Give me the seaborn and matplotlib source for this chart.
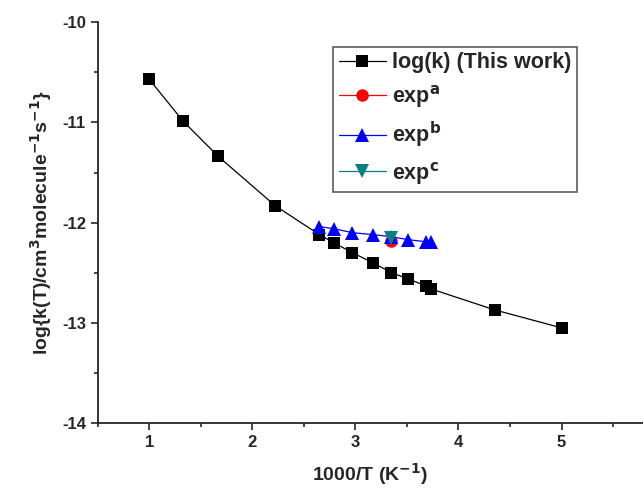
import matplotlib
matplotlib.use("Agg")
import matplotlib.pyplot as plt
import seaborn as sns
import pandas as pd
from matplotlib.ticker import MultipleLocator

# data
x_calc = [1.0, 1.33, 1.67, 2.22, 2.65, 2.79, 2.97, 3.17, 3.35, 3.51, 3.68, 3.73, 4.35, 5.0]
y_calc = [-10.57, -10.99, -11.34, -11.83, -12.12, -12.20, -12.30, -12.40, -12.50,
          -12.56, -12.63, -12.66, -12.87, -13.05]
x_exp_a = [3.35]
y_exp_a = [-12.18]
x_exp_b = [2.65, 2.79, 2.97, 3.17, 3.35, 3.51, 3.68, 3.73]
y_exp_b = [-12.04, -12.06, -12.10, -12.12, -12.14, -12.17, -12.19, -12.19]
x_exp_c = [3.35]
y_exp_c = [-12.15]

sns.set_style("ticks")
plt.rcParams["font.family"] = ["Liberation Sans", "DejaVu Sans"]
plt.rcParams["font.weight"] = "bold"
plt.rcParams["mathtext.default"] = "bf"
plt.rcParams["axes.unicode_minus"] = False

fig = plt.figure(figsize=(6.43, 4.92), dpi=100)
ax = fig.add_axes([0.152, 0.140, 0.848, 0.815])

series = [
    (x_calc, y_calc, "log(k) (This work)", "black", "s", 8),
    (x_exp_a, y_exp_a, r"exp$^{\mathbf{a}}$", "red", "o", 9),
    (x_exp_b, y_exp_b, r"exp$^{\mathbf{b}}$", "blue", "^", 9.5),
    (x_exp_c, y_exp_c, r"exp$^{\mathbf{c}}$", "#0a7f7f", "v", 9.5),
]
for xs, ys, name, col, mk, ms in series:
    df = pd.DataFrame({"x": xs, "y": ys})
    sns.lineplot(data=df, x="x", y="y", ax=ax, color=col, marker=mk, markersize=ms,
                 markeredgewidth=0, linewidth=0.9, label=name, sort=False)

ax.set_xlim(0.5, 5.79)
ax.set_ylim(-14, -10)
ax.xaxis.set_major_locator(MultipleLocator(1))
ax.xaxis.set_minor_locator(MultipleLocator(0.5))
ax.yaxis.set_major_locator(MultipleLocator(1))
ax.yaxis.set_minor_locator(MultipleLocator(0.5))
ax.tick_params(which="major", direction="out", length=5, width=1.2, labelsize=12)
ax.tick_params(which="minor", direction="out", length=3, width=1.2)
for lab in ax.get_xticklabels() + ax.get_yticklabels():
    lab.set_fontweight("bold")
sns.despine(ax=ax)
for s in ["left", "bottom"]:
    ax.spines[s].set_linewidth(1.3)

ax.set_xlabel(r"1000/T (K$^{\mathbf{-1}}$)", fontsize=14, fontweight="bold", labelpad=8)
ax.set_ylabel(r"log{k(T)/cm$^{\mathbf{3}}$molecule$^{\mathbf{-1}}$s$^{\mathbf{-1}}$}",
              fontsize=14, fontweight="bold", labelpad=6)

leg = ax.legend(loc="upper left", bbox_to_anchor=(0.412, 0.965), frameon=True,
                fancybox=False, edgecolor="#333333", fontsize=15.5, handlelength=2.2,
                borderpad=0.25, labelspacing=0.45, handletextpad=0.3)
leg.get_frame().set_linewidth(1.2)
for t in leg.get_texts():
    t.set_fontweight("bold")

fig.savefig("out.png", dpi=100)
